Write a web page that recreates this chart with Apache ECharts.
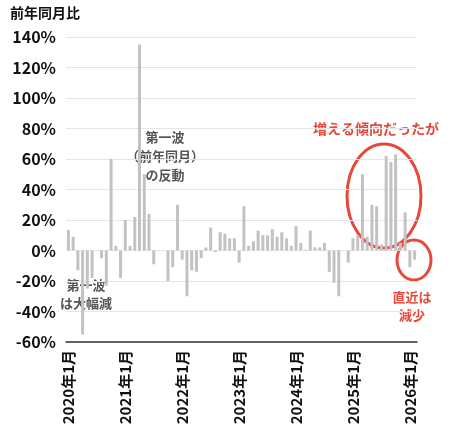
<!DOCTYPE html>
<html>
<head>
<meta charset="utf-8" />
<script src="https://cdn.jsdelivr.net/npm/echarts@6/dist/echarts.min.js"></script>
</head>
<body style="margin:0">
<div id="main" style="width:450px;height:438px"></div>
<script>
// 2020年1月 .. 2026年2月, 前年同月比 (%)
const months = [];
for (let y = 2020; y <= 2026; y++) {
    for (let m = 1; m <= 12; m++) {
        if (y === 2026 && m > 2) break;
        months.push(y + '年' + m + '月');
    }
}
const values = [
    13.5, 9, -13, -55, -25, -18, 0, -5, -23, 60, 3, -18,
    20, 3, 22, 135, 50, 24, -9, 0, 0, -20, -11, 30,
    -6, -30, -13, -14, -5, 2, 15, -1, 12, 11, 8, 8,
    -8, 29, 3, 6, 13, 10, 10, 14, 9, 12, 8, 3,
    16, 5, 0.5, 13, 2, 2, 5, -14, -21, -30, 0, -8,
    8, 10, 50, 9, 30, 29, 4, 62, 58, 63, 5, 25,
    -11, -6
];
const shownLabels = [0, 12, 24, 36, 48, 60, 72, 73];

var chart = echarts.init(document.getElementById('main'), null, { renderer: 'canvas' });
const red = '#e8483a';
const note = (x, y, text, fill, size, lh) => ({
    type: 'text', x: x, y: y,
    style: { text: text, font: 'bold ' + size + 'px "Noto Sans CJK JP"', fill: fill, align: 'center', lineHeight: lh }
});
chart.setOption({
    animation: false,
    grid: { left: 66, right: 33, top: 37, bottom: 96 },
    xAxis: {
        type: 'category',
        data: months,
        axisTick: { show: false },
        axisLine: { onZero: false, lineStyle: { color: '#333', width: 1.5 } },
        axisLabel: {
            rotate: 90,
            interval: (i) => shownLabels.includes(i),
            hideOverlap: false,
            color: '#111',
            fontWeight: 'bold',
            fontSize: 15,
            fontFamily: 'Noto Sans CJK JP',
            margin: 8
        }
    },
    yAxis: {
        type: 'value',
        min: -60,
        max: 140,
        interval: 20,
        axisLabel: {
            formatter: '{value}%',
            color: '#111',
            fontWeight: 'bold',
            fontSize: 16,
            fontFamily: 'Noto Sans CJK JP',
            margin: 10
        },
        splitLine: { lineStyle: { color: '#e6e6e6' } }
    },
    series: [{
        type: 'bar',
        data: values,
        barWidth: 3,
        itemStyle: { color: '#c2c2c2' },
        silent: true
    }],
    graphic: [
        { type: 'text', left: 10, top: 6, style: { text: '前年同月比', font: 'bold 14px "Noto Sans CJK JP"', fill: '#111' } },
        note(165, 128, '第一波\n（前年同月）\nの反動', '#555', 13, 19),
        note(86, 276, '第一波\nは大幅減', '#555', 13, 18),
        note(376, 120, '増える傾向だったが', red, 14, 18),
        note(412, 288, '直近は\n減少', red, 13, 18),
        { type: 'ellipse', shape: { cx: 384, cy: 196, rx: 37, ry: 52 }, style: { fill: 'none', stroke: red, lineWidth: 3 } },
        { type: 'ellipse', shape: { cx: 414, cy: 260, rx: 17, ry: 20 }, style: { fill: 'none', stroke: red, lineWidth: 3 } }
    ]
});
</script>
</body>
</html>
